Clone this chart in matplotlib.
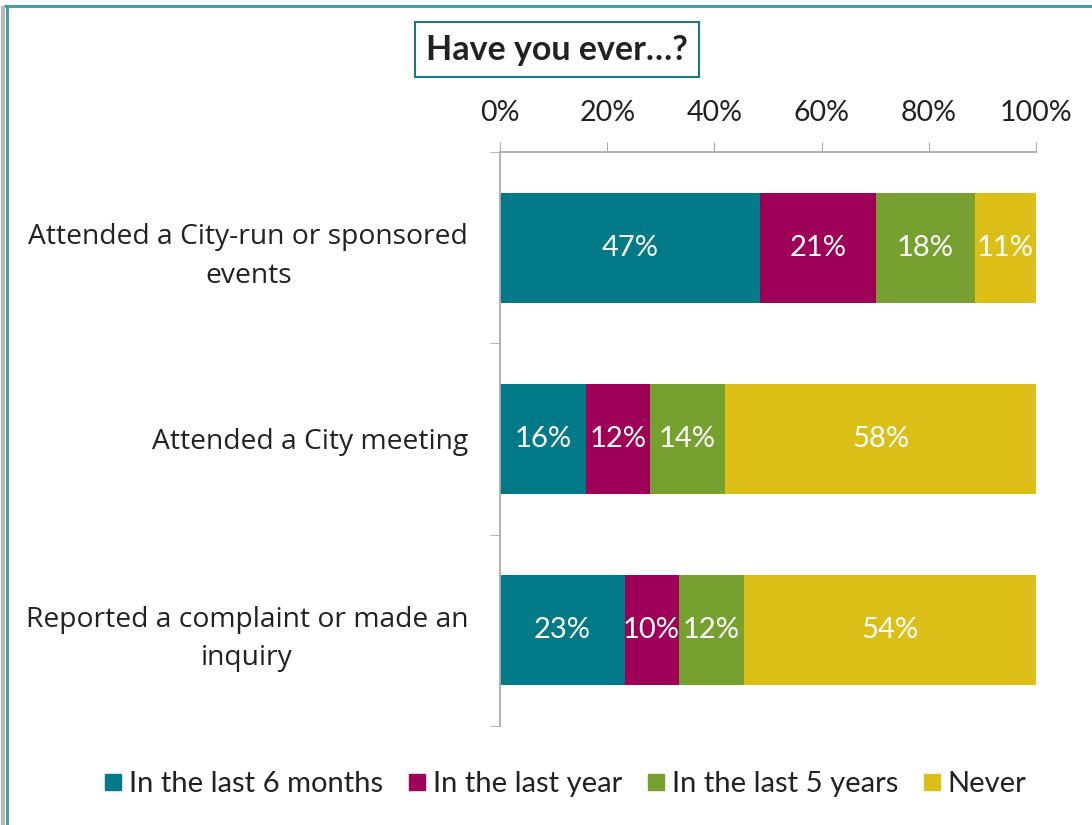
import matplotlib
matplotlib.use('Agg')
import matplotlib.pyplot as plt
from matplotlib.lines import Line2D
import numpy as np

# 데이터
categories = ['Attended a City-run or sponsored\nevents',
              'Attended a City meeting',
              'Reported a complaint or made an\ninquiry']
series = ['In the last 6 months', 'In the last year', 'In the last 5 years', 'Never']
last6 = [47, 16, 23]
lastyear = [21, 12, 10]
last5 = [18, 14, 12]
never = [11, 58, 54]
colors = ['#007A87', '#9E0057', '#76A130', '#DBBF17']

narrow = ['Lato', 'DejaVu Sans']
body = ['Open Sans', 'DejaVu Sans']

fig = plt.figure(figsize=(10.92, 8.25), dpi=100)
ax = fig.add_axes([0.4579, 0.12, 0.4908, 0.6958])

values = np.array([last6, lastyear, last5, never], dtype=float)
shares = values / values.sum(axis=0) * 100
y = np.arange(len(categories))
left = np.zeros(len(categories))
for i, name in enumerate(series):
    ax.barh(y, shares[i], left=left, height=0.575, color=colors[i], label=name)
    for j in range(len(categories)):
        ax.text(left[j] + shares[i][j] / 2, y[j], f'{int(values[i][j])}%',
                ha='center', va='center', color='white', fontsize=21, family=narrow)
    left += shares[i]

ax.set_xlim(0, 100)
ax.set_ylim(2.5, -0.5)
ax.xaxis.tick_top()
ax.set_xticks(np.arange(0, 101, 20))
ax.set_xticklabels([f'{v}%' for v in range(0, 101, 20)], fontsize=20.5, family=narrow, color='#222222')
ax.tick_params(axis='x', direction='out', length=7, color='#aaaaaa', pad=12)
ax.set_yticks(y)
ax.set_yticklabels(categories, fontsize=20.3, family=body, color='#222222',
                   multialignment='center', linespacing=1.5)
ax.set_yticks([-0.5, 0.5, 1.5, 2.5], minor=True)
ax.tick_params(axis='y', which='major', length=0, pad=23)
ax.tick_params(axis='y', which='minor', length=7, color='#aaaaaa')
for s in ['right', 'bottom']:
    ax.spines[s].set_visible(False)
for s in ['left', 'top']:
    ax.spines[s].set_color('#aaaaaa')
    ax.spines[s].set_linewidth(1.3)

# 범례
handles = [Line2D([0], [0], marker='s', linestyle='', markersize=12, color=c) for c in colors]
fig.legend(handles, series, loc='center', bbox_to_anchor=(0.515, 0.050), ncol=4, frameon=False,
           prop={'family': narrow, 'size': 21}, handletextpad=0.05, columnspacing=0.65,
           handlelength=1.0, labelcolor='#222222')

# 제목 박스
fig.text(0.510, 0.940, 'Have you ever…?', ha='center', va='center', fontsize=24.5, weight='bold',
         family=narrow, color='#222222',
         bbox=dict(boxstyle='square,pad=0.33', facecolor='white', edgecolor='#1B7A80', linewidth=1.5))

# 테두리
fig.add_artist(Line2D([0.005, 1.0], [0.993, 0.993], color='#3A9AA6', linewidth=2, transform=fig.transFigure))
fig.add_artist(Line2D([0.006, 0.006], [0.0, 0.993], color='#3A9AA6', linewidth=2, transform=fig.transFigure))
fig.add_artist(Line2D([0.003, 0.003], [0.0, 0.99], color='#bbbbbb', linewidth=3, transform=fig.transFigure))

fig.savefig('out.png', dpi=100)
